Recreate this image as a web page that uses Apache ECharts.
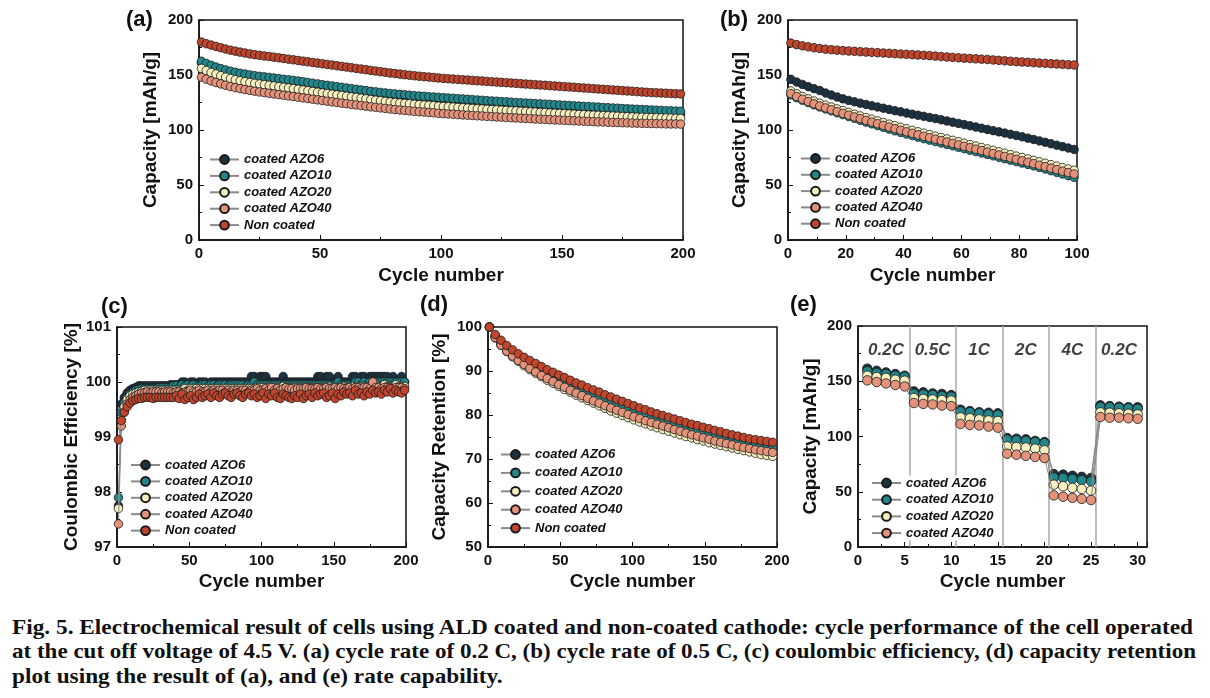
<!DOCTYPE html>
<html>
<head>
<meta charset="utf-8">
<script src="https://cdn.jsdelivr.net/npm/echarts@6/dist/echarts.min.js"></script>
<style>
html,body{margin:0;padding:0;background:#fff;}
#chart{position:absolute;left:0;top:0;width:1210px;height:600px;}
.cap{position:absolute;left:12px;font-family:"Liberation Serif","Times New Roman",serif;font-weight:bold;font-size:22px;line-height:24px;color:#111;white-space:nowrap;transform-origin:0 50%;}
</style>
</head>
<body>
<div id="chart"></div>
<div class="cap" id="cap1" style="top:615px">Fig. 5. Electrochemical result of cells using ALD coated and non-coated cathode: cycle performance of the cell operated</div>
<div class="cap" id="cap2" style="top:639px">at the cut off voltage of 4.5 V. (a) cycle rate of 0.2 C, (b) cycle rate of 0.5 C, (c) coulombic efficiency, (d) capacity retention</div>
<div class="cap" id="cap3" style="top:664px">plot using the result of (a), and (e) rate capability.</div>
<script>
const seriesNames = ['coated AZO6', 'coated AZO10', 'coated AZO20', 'coated AZO40', 'Non coated'];
const rateNames = ['coated AZO6', 'coated AZO10', 'coated AZO20', 'coated AZO40'];

// (a) capacity at 0.2 C, cycles 1,3,5,...,199
const capA_AZO6 = [161.0,159.0,157.3,155.7,154.3,153.1,152.0,151.0,150.1,149.3,
148.6,147.9,147.3,146.7,146.2,145.6,145.0,144.4,143.9,143.3,
142.7,142.1,141.4,140.8,140.1,139.4,138.8,138.1,137.5,136.9,
136.3,135.7,135.1,134.5,133.9,133.3,132.7,132.2,131.7,131.2,
130.7,130.3,129.9,129.5,129.1,128.7,128.4,128.0,127.7,127.4,
127.0,126.7,126.4,126.1,125.8,125.5,125.2,124.9,124.6,124.3,
124.0,123.7,123.4,123.1,122.8,122.5,122.2,121.9,121.7,121.4,
121.1,120.8,120.6,120.3,120.0,119.7,119.5,119.2,118.9,118.7,
118.4,118.1,117.9,117.6,117.4,117.1,116.9,116.6,116.4,116.1,
115.9,115.7,115.5,115.3,115.1,115.0,114.8,114.7,114.6,114.5];
const capA_AZO10 = [162.5,160.5,158.8,157.2,155.8,154.6,153.5,152.5,151.6,150.8,
150.1,149.4,148.8,148.3,147.8,147.2,146.7,146.1,145.6,145.1,
144.5,143.9,143.2,142.6,141.9,141.2,140.6,140.0,139.4,138.8,
138.2,137.6,137.0,136.4,135.8,135.2,134.7,134.2,133.7,133.2,
132.8,132.4,132.0,131.6,131.2,130.9,130.6,130.3,130.0,129.7,
129.4,129.1,128.8,128.5,128.2,127.9,127.6,127.3,127.0,126.7,
126.4,126.1,125.8,125.6,125.3,125.0,124.8,124.5,124.3,124.0,
123.8,123.5,123.3,123.0,122.8,122.5,122.3,122.0,121.8,121.5,
121.3,121.0,120.8,120.5,120.3,120.0,119.8,119.5,119.3,119.0,
118.8,118.6,118.4,118.2,118.0,117.8,117.6,117.4,117.2,117.0];
const capA_AZO20 = [156.0,154.0,152.3,150.8,149.4,148.0,146.8,145.7,144.7,143.9,
143.1,142.4,141.8,141.2,140.6,140.0,139.4,138.8,138.2,137.6,
137.0,136.3,135.7,135.0,134.4,133.7,133.1,132.5,131.9,131.3,
130.7,130.1,129.5,128.9,128.3,127.7,127.1,126.6,126.0,125.5,
125.0,124.6,124.2,123.8,123.4,123.0,122.7,122.4,122.1,121.7,
121.4,121.1,120.8,120.5,120.2,119.9,119.6,119.3,119.1,118.8,
118.5,118.3,118.0,117.8,117.5,117.3,117.0,116.8,116.5,116.3,
116.0,115.8,115.5,115.3,115.1,114.8,114.6,114.4,114.1,113.9,
113.7,113.5,113.3,113.1,112.9,112.7,112.5,112.3,112.1,111.9,
111.7,111.6,111.4,111.3,111.2,111.0,110.9,110.8,110.6,110.5];
const capA_AZO40 = [148.0,146.2,144.6,143.2,141.9,140.7,139.5,138.5,137.6,136.8,
136.0,135.3,134.6,134.0,133.4,132.8,132.2,131.6,131.0,130.4,
129.8,129.2,128.6,128.0,127.4,126.8,126.2,125.6,125.0,124.4,
123.9,123.3,122.8,122.2,121.7,121.1,120.6,120.1,119.6,119.1,
118.6,118.2,117.8,117.4,117.0,116.6,116.3,115.9,115.6,115.2,
114.9,114.6,114.3,114.0,113.7,113.5,113.2,112.9,112.7,112.4,
112.2,111.9,111.7,111.4,111.2,111.0,110.7,110.5,110.3,110.0,
109.8,109.6,109.4,109.2,109.0,108.8,108.6,108.4,108.2,108.0,
107.8,107.6,107.4,107.3,107.1,106.9,106.8,106.6,106.5,106.3,
106.2,106.1,106.0,105.9,105.8,105.7,105.6,105.5,105.5,105.4];
const capA_NC = [180.0,178.4,177.2,176.0,174.8,173.6,172.6,171.7,170.8,170.0,
169.2,168.5,167.9,167.3,166.8,166.2,165.6,165.0,164.4,163.8,
163.2,162.6,162.0,161.4,160.8,160.2,159.6,159.0,158.4,157.8,
157.2,156.6,156.0,155.4,154.8,154.2,153.6,153.0,152.4,151.8,
151.3,150.8,150.3,149.8,149.3,148.9,148.5,148.1,147.7,147.3,
146.9,146.6,146.3,146.0,145.7,145.4,145.1,144.8,144.5,144.2,
143.9,143.6,143.3,143.0,142.7,142.4,142.1,141.8,141.5,141.2,
140.9,140.6,140.3,140.0,139.7,139.4,139.1,138.8,138.5,138.2,
137.9,137.6,137.3,137.0,136.7,136.4,136.1,135.8,135.5,135.2,
134.9,134.6,134.3,134.0,133.8,133.6,133.4,133.2,133.0,132.8];

// (b) capacity at 0.5 C, cycles 1,3,5,...,99
const capB_AZO6 = [146.0,143.6,141.4,139.4,137.6,135.9,133.6,131.8,130.0,128.3,
126.9,125.6,124.4,123.2,122.0,120.9,119.8,118.7,117.6,116.5,
115.4,114.4,113.4,112.4,111.4,110.4,109.3,108.2,107.1,106.0,
104.9,103.8,102.7,101.6,100.5,99.4,98.3,97.2,96.1,95.0,
93.8,92.6,91.4,90.1,88.8,87.5,86.2,84.9,83.6,82.3];
const capB_AZO10 = [132.0,129.4,127.0,124.9,122.9,121.0,119.2,117.4,115.7,114.0,
112.3,110.6,108.9,107.2,105.6,104.0,102.4,100.8,99.3,97.8,
96.3,94.9,93.5,92.1,90.8,89.5,88.2,86.9,85.6,84.3,
83.0,81.7,80.4,79.1,77.8,76.5,75.2,73.9,72.6,71.3,
70.0,68.7,67.4,66.0,64.6,63.0,61.5,60.0,58.5,57.0];
const capB_AZO20 = [135.5,132.9,130.5,128.3,126.3,124.4,122.6,120.9,119.2,117.6,
116.0,114.4,112.8,111.3,109.8,108.3,106.8,105.3,103.9,102.5,
101.1,99.7,98.4,97.1,95.8,94.5,93.2,91.9,90.6,89.3,
88.0,86.7,85.4,84.1,82.8,81.5,80.2,78.9,77.6,76.3,
75.0,73.7,72.4,71.1,69.8,68.5,67.2,65.9,64.6,63.4];
const capB_AZO40 = [133.0,130.4,128.0,125.8,123.8,121.9,120.1,118.4,116.7,115.1,
113.5,111.9,110.3,108.7,107.2,105.7,104.2,102.7,101.2,99.8,
98.4,97.0,95.6,94.3,93.0,91.7,90.4,89.1,87.8,86.5,
85.2,83.9,82.6,81.3,80.0,78.6,77.3,76.0,74.7,73.4,
72.0,70.7,69.4,68.0,66.7,65.3,64.0,62.6,61.3,60.0];
const capB_NC = [179.0,177.6,176.5,175.6,174.8,174.1,173.5,173.0,172.6,172.2,
171.8,171.5,171.2,170.9,170.6,170.3,170.0,169.7,169.4,169.1,
168.8,168.5,168.2,167.9,167.6,167.2,166.8,166.4,166.0,165.6,
165.3,165.0,164.7,164.4,164.1,163.7,163.3,162.9,162.5,162.1,
161.8,161.5,161.2,160.9,160.6,160.3,160.0,159.7,159.4,159.1];

// (c) coulombic efficiency [%], cycles 1,3,5,...,199
const ceC_AZO6 = [97.75,99.6,99.72,99.8,99.85,99.88,99.9,99.93,99.93,99.93,
99.93,99.93,99.93,99.93,99.93,99.93,99.93,99.93,99.95,99.95,
99.95,99.95,100.0,100.0,99.95,100.0,100.0,99.95,100.0,100.0,
100.0,99.95,100.0,100.0,100.0,100.0,100.0,100.0,100.0,100.0,
100.0,100.0,100.0,100.0,100.0,100.0,100.1,100.1,100.0,100.1,
100.1,100.1,100.0,100.0,100.0,100.0,100.0,100.1,100.0,100.0,
100.0,100.0,100.0,100.0,100.0,100.0,100.0,100.0,100.0,100.1,
100.1,100.0,100.1,100.1,100.0,100.0,100.1,100.0,100.0,100.0,
100.0,100.1,100.1,100.0,100.1,100.1,100.0,100.1,100.1,100.1,
100.1,100.1,100.1,100.1,100.0,100.1,100.0,100.0,100.1,100.0];
const ceC_AZO10 = [97.9,99.45,99.62,99.72,99.78,99.82,99.85,99.87,99.88,99.88,
99.88,99.88,99.88,99.88,99.9,99.9,99.9,99.9,99.9,99.93,
99.93,99.9,99.95,99.93,99.95,99.93,99.95,99.93,99.93,99.95,
99.95,99.93,99.95,99.95,99.93,99.95,99.95,99.95,99.93,99.95,
99.95,99.95,99.95,99.95,99.93,99.95,99.95,100.0,99.95,99.95,
99.95,99.95,99.95,99.95,99.95,99.95,99.95,99.95,99.95,99.95,
99.95,99.95,99.95,99.95,99.95,99.95,99.95,99.95,99.95,99.95,
99.95,99.95,99.95,99.95,99.95,99.95,100.0,99.95,99.95,99.95,
99.95,99.95,100.0,100.0,99.95,100.0,99.95,100.0,100.0,100.0,
100.0,100.0,100.0,100.0,100.0,100.0,100.0,100.0,100.0,100.0];
const ceC_AZO20 = [97.7,99.3,99.55,99.68,99.75,99.78,99.8,99.82,99.83,99.85,
99.85,99.85,99.85,99.85,99.85,99.85,99.85,99.85,99.85,99.85,
99.85,99.85,99.85,99.88,99.85,99.88,99.85,99.88,99.88,99.88,
99.88,99.88,99.88,99.88,99.88,99.88,99.88,99.88,99.88,99.88,
99.88,99.88,99.88,99.88,99.88,99.88,99.88,99.88,99.9,99.9,
99.9,99.9,99.9,99.88,99.9,99.9,99.9,99.92,99.9,99.9,
99.9,99.9,99.9,99.9,99.9,99.9,99.9,99.9,99.9,99.9,
99.9,99.9,99.9,99.92,99.9,99.9,99.9,99.9,99.92,99.9,
99.9,99.92,99.9,99.9,99.92,99.92,99.9,99.92,99.92,99.95,
99.92,99.92,99.95,99.92,99.92,99.92,99.95,99.92,99.92,99.92];
const ceC_AZO40 = [97.42,99.2,99.45,99.6,99.68,99.72,99.75,99.78,99.8,99.8,
99.82,99.8,99.82,99.82,99.82,99.8,99.82,99.82,99.82,99.8,
99.82,99.82,99.8,99.82,99.82,99.85,99.82,99.82,99.85,99.82,
99.82,99.85,99.82,99.85,99.82,99.85,99.85,99.82,99.85,99.82,
99.85,99.85,99.82,99.85,99.85,99.82,99.85,99.85,99.88,99.85,
99.85,99.88,99.85,99.9,99.85,99.88,99.85,99.88,99.9,99.88,
99.88,99.85,99.88,99.88,99.88,99.9,99.88,99.88,99.88,99.9,
99.88,99.88,99.9,99.88,99.88,99.9,99.88,99.9,99.88,99.88,
99.9,99.88,99.9,99.9,99.88,99.9,99.9,99.88,100.0,99.9,
99.9,99.88,99.9,99.9,99.9,99.88,99.9,99.9,99.9,99.88];
const ceC_NC = [98.95,99.3,99.45,99.55,99.62,99.66,99.68,99.7,99.7,99.72,
99.72,99.72,99.7,99.72,99.72,99.72,99.72,99.72,99.72,99.72,
99.75,99.7,99.78,99.68,99.72,99.75,99.68,99.72,99.78,99.72,
99.75,99.78,99.72,99.8,99.75,99.72,99.78,99.8,99.75,99.72,
99.78,99.8,99.75,99.72,99.78,99.8,99.75,99.78,99.72,99.75,
99.8,99.7,99.78,99.75,99.8,99.72,99.7,99.78,99.75,99.72,
99.7,99.75,99.72,99.78,99.7,99.75,99.78,99.72,99.8,99.75,
99.78,99.8,99.72,99.75,99.8,99.7,99.78,99.75,99.82,99.78,
99.8,99.75,99.85,99.78,99.8,99.75,99.82,99.78,99.85,99.8,
99.82,99.78,99.85,99.82,99.88,99.8,99.85,99.82,99.8,99.85];

// (d) capacity retention [%], cycles 1,5,9,...,197
const retD_AZO6 = [100,97.8,96.2,94.9,93.8,92.8,91.9,91.1,90.3,89.5,
88.8,88.1,87.4,86.7,86.1,85.4,84.8,84.2,83.6,83.0,
82.4,81.9,81.3,80.8,80.3,79.8,79.3,78.8,78.3,77.9,
77.4,77.0,76.6,76.2,75.8,75.4,75.0,74.6,74.3,73.9,
73.6,73.2,72.9,72.6,72.3,72.0,71.7,71.4,71.2,70.9];
const retD_AZO10 = [100,98.0,96.5,95.3,94.3,93.4,92.5,91.7,90.9,90.2,
89.5,88.8,88.2,87.5,86.9,86.3,85.7,85.1,84.5,84.0,
83.4,82.9,82.3,81.8,81.3,80.8,80.3,79.9,79.4,79.0,
78.6,78.2,77.8,77.4,77.0,76.6,76.3,75.9,75.6,75.2,
74.9,74.6,74.3,74.0,73.7,73.5,73.3,73.1,72.9,72.7];
const retD_AZO20 = [100,97.5,95.8,94.4,93.2,92.2,91.2,90.3,89.5,88.7,
87.9,87.2,86.5,85.8,85.2,84.5,83.9,83.3,82.7,82.1,
81.5,80.9,80.4,79.9,79.4,78.9,78.4,78.0,77.5,77.1,
76.7,76.3,75.9,75.5,75.1,74.8,74.4,74.1,73.7,73.4,
73.1,72.8,72.5,72.2,71.9,71.6,71.3,71.0,70.8,70.6];
const retD_AZO40 = [100,97.6,95.9,94.5,93.4,92.4,91.5,90.6,89.8,89.0,
88.3,87.6,86.9,86.3,85.6,85.0,84.4,83.8,83.2,82.7,
82.1,81.6,81.1,80.6,80.1,79.6,79.2,78.7,78.3,77.9,
77.5,77.1,76.7,76.3,75.9,75.5,75.2,74.8,74.5,74.1,
73.8,73.5,73.2,72.9,72.6,72.4,72.1,71.9,71.7,71.5];
const retD_NC = [100,98.3,97.0,95.8,94.8,93.9,93.1,92.4,91.7,91.0,
90.3,89.7,89.1,88.5,87.9,87.3,86.8,86.2,85.7,85.2,
84.6,84.1,83.6,83.1,82.6,82.1,81.6,81.2,80.7,80.3,
79.9,79.5,79.1,78.7,78.3,77.9,77.6,77.2,76.9,76.5,
76.2,75.8,75.5,75.2,74.9,74.6,74.4,74.2,74.0,73.8];

// (e) rate capability, cycles 1..30
const rateE_AZO6 = [161.4,159.5,158,156.5,155, 140.8,140,139,138.5,137.5, 124.3,123,122,121.5,121, 98.6,98,97.5,96,95, 66,65.5,64.5,63.5,62.5, 128.2,127.5,127,126.5,126.5];
const rateE_AZO10 = [159,157.5,156.5,155,154, 138.7,138,137.5,136.5,136, 122.7,122,121,120,119.5, 97.1,96.5,96,95,94, 63,62.5,61.5,60.5,59.5, 126.7,126.5,126,125.5,125];
const rateE_AZO20 = [155,153.8,153,151.4,150.5, 134.8,134,133.5,133,132.5, 117.3,116.5,115.5,114.5,114, 91,90.5,90,89,87.5, 56.4,55,53.5,52.5,51, 121.8,121.5,121,120.5,120];
const rateE_AZO40 = [150.8,149.3,148,146.6,145.3, 130.3,129.5,129,128,127.5, 111.3,110.5,110,109,108, 84.4,83.5,82.5,81.5,80.5, 46.7,45.5,44.5,43.5,42.5, 117.6,117,117,116.5,116];
const rateLabels = ['0.2C', '0.5C', '1C', '2C', '4C', '0.2C'];
const rateLabelX = [3, 8, 13, 18, 23, 28];
const rateLabelY = 178;
const rateBoundaries = [5.5, 10.5, 15.5, 20.5, 25.5];

// ---------- rendering ----------
const F = '"Liberation Sans", Arial, sans-serif';
const colors = ['#1c3240', '#22868a', '#f5efc0', '#e4937a', '#c0452d'];
const INK = '#111';

const panels = [
  {grid: {left: 199, top: 20, width: 484, height: 220}, x: [0, 200, 50], y: [0, 200, 50], yName: 'Capacity [mAh/g]', yGap: 39, xGap: 26,
   sets: [[capA_AZO6, 1, 2], [capA_AZO10, 1, 2], [capA_AZO20, 1, 2], [capA_AZO40, 1, 2], [capA_NC, 1, 2]], names: seriesNames,
   legend: {left: 209, top: 153, gap: 3.4}},
  {grid: {left: 788, top: 20, width: 289, height: 220}, x: [0, 100, 20], y: [0, 200, 50], yName: 'Capacity [mAh/g]', yGap: 39, xGap: 26,
   sets: [[capB_AZO6, 1, 2], [capB_AZO10, 1, 2], [capB_AZO20, 1, 2], [capB_AZO40, 1, 2], [capB_NC, 1, 2]], names: seriesNames,
   legend: {left: 800, top: 152, gap: 3.3}},
  {grid: {left: 117, top: 327, width: 289, height: 220}, x: [0, 200, 50], y: [97, 101, 1], yName: 'Coulombic Efficiency [%]', yGap: 36, xGap: 25,
   sets: [[ceC_AZO6, 1, 2], [ceC_AZO10, 1, 2], [ceC_AZO20, 1, 2], [ceC_AZO40, 1, 2], [ceC_NC, 1, 2]], names: seriesNames,
   legend: {left: 130, top: 458.5, gap: 3.4}},
  {grid: {left: 488, top: 327, width: 289, height: 220}, x: [0, 200, 50], y: [50, 100, 10], yName: 'Capacity Retention [%]', yGap: 39, xGap: 25,
   sets: [[retD_AZO6, 1, 4], [retD_AZO10, 1, 4], [retD_AZO20, 1, 4], [retD_AZO40, 1, 4], [retD_NC, 1, 4]], names: seriesNames,
   legend: {left: 500, top: 448, gap: 5.4}},
  {grid: {left: 858, top: 326, width: 289, height: 221}, x: [0, 31, 5], y: [0, 200, 50], yName: 'Capacity [mAh/g]', yGap: 38, xGap: 25,
   sets: [[rateE_AZO6, 1, 1], [rateE_AZO10, 1, 1], [rateE_AZO20, 1, 1], [rateE_AZO40, 1, 1]], names: rateNames,
   legend: {left: 871, top: 475.5, gap: 3.7, bg: '#fff'}}
];

function mk(values, start, step) { return values.map((v, i) => [start + i * step, v]); }

const grids = [], xAxes = [], yAxes = [], legends = [], series = [];
const tickCommon = {
  axisLine: {show: true, onZero: false, lineStyle: {color: INK, width: 1.5}},
  axisTick: {show: true, inside: true, length: 5, lineStyle: {color: INK, width: 1}},
  minorTick: {show: true, splitNumber: 2, length: 3, lineStyle: {color: INK, width: 1}},
  splitLine: {show: false}, minorSplitLine: {show: false},
  nameLocation: 'middle',
  nameTextStyle: {fontSize: 19, fontWeight: 'bold', color: INK, fontFamily: F}
};
panels.forEach((p, i) => {
  grids.push(Object.assign({show: true, borderColor: INK, borderWidth: 1.5, backgroundColor: 'transparent', containLabel: false}, p.grid));
  xAxes.push(Object.assign({}, tickCommon, {
    type: 'value', gridIndex: i, min: p.x[0], max: p.x[1], interval: p.x[2],
    name: 'Cycle number', nameGap: p.xGap,
    axisLabel: {fontSize: 15, fontWeight: 'bold', color: INK, fontFamily: F, margin: 6, showMaxLabel: i === 4 ? false : true}
  }));
  yAxes.push(Object.assign({}, tickCommon, {
    type: 'value', gridIndex: i, min: p.y[0], max: p.y[1], interval: p.y[2],
    name: p.yName, nameGap: p.yGap,
    axisLabel: {fontSize: 15, fontWeight: 'bold', color: INK, fontFamily: F, margin: 6}
  }));
  legends.push({
    orient: 'vertical', left: p.legend.left, top: p.legend.top, itemGap: p.legend.gap, z: 6,
    itemWidth: 29, itemHeight: 11, padding: p.legend.bg ? [1, 4, 1, 0] : 0, selectedMode: false, data: p.names,
    backgroundColor: p.legend.bg || 'transparent',
    textStyle: {fontSize: 13, fontStyle: 'italic', fontWeight: 'bold', color: INK, fontFamily: F}
  });
  if (i === 4) {
    series.push({
      type: 'scatter', xAxisIndex: i, yAxisIndex: i, symbolSize: 0, silent: true, z: 1,
      data: rateLabels.map((t, k) => ({name: t, value: [rateLabelX[k], rateLabelY]})),
      label: {show: true, position: 'inside', formatter: (q) => q.name, fontSize: 17, fontWeight: 'bold', fontStyle: 'italic', color: INK, fontFamily: F},
      markLine: {silent: true, z: 1, symbol: ['none', 'none'], label: {show: false}, animation: false,
        lineStyle: {color: '#a8a8a8', type: 'solid', width: 1.5},
        data: rateBoundaries.map(b => ({xAxis: b}))}
    });
  }
  p.sets.forEach((s, k) => {
    series.push({
      type: 'line', name: p.names[k], xAxisIndex: i, yAxisIndex: i,
      data: mk(s[0], s[1], s[2]),
      symbol: 'circle', symbolSize: i === 4 ? 9.5 : 8.5, showSymbol: true, showAllSymbol: true, clip: true, z: 2 + k * 0.1,
      itemStyle: {color: colors[k], borderColor: '#1a1a1a', borderWidth: 0.8},
      lineStyle: {color: '#8a8a8a', width: 1},
      emphasis: {disabled: true}
    });
  });
});

const panelLabels = [['(a)', 126, 9], ['(b)', 720, 9], ['(c)', 101, 296], ['(d)', 420, 294], ['(e)', 790, 294]];
const chart = echarts.init(document.getElementById('chart'), null, {renderer: 'canvas'});
chart.setOption({
  animation: false,
  backgroundColor: '#fff',
  grid: grids, xAxis: xAxes, yAxis: yAxes, legend: legends, series: series,
  graphic: panelLabels.map(l => ({type: 'text', left: l[1], top: l[2], silent: true,
    style: {text: l[0], font: 'bold 22px ' + F, fill: INK}}))
});

// caption: fit lines to the justified column width
function fit(id, target) {
  const el = document.getElementById(id);
  const w = el.getBoundingClientRect().width;
  const k = target / w;
  el.style.transform = 'scaleX(' + k + ')';
  return k;
}
const k1 = fit('cap1', 1181);
fit('cap2', 1184);
document.getElementById('cap3').style.transform = 'scaleX(' + k1 + ')';
</script>
</body>
</html>
